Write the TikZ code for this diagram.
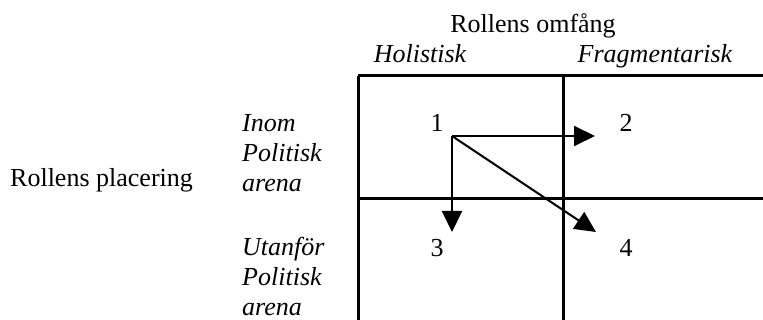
\documentclass[tikz,border=0pt]{standalone}
\usepackage{fontspec}
\setmainfont{Liberation Serif}
\usetikzlibrary{arrows.meta}
\usetikzlibrary{positioning}
\tikzstyle{line} = [draw, line width=2pt, -{Triangle[length=21pt,width=20pt]}]
\tikzstyle{grid} = [draw, line width=3pt]

\begin{document}
\begin{tikzpicture}[x=1pt, y=-1pt,
    every node/.style={inner sep=0pt, font=\fontsize{26}{30}\selectfont},
    head/.style={anchor=base},
    rowlabel/.style={anchor=north west, align=left, font=\fontsize{26}{30}\selectfont\itshape},
    cellnum/.style={anchor=base}]
    \useasboundingbox (0,0) rectangle (763,320);
    %% Grid
    \path[grid] (358,76) -- (763,76);
    \path[grid] (358,199) -- (763,199);
    \path[grid] (358,76) -- (358,320);
    \path[grid] (563,76) -- (563,320);
    %% Headings
    \node[head] (omfang) at (533,33) {Rollens omfång};
    \node[head, font=\fontsize{26}{30}\selectfont\itshape] (holist) at (420,63) {Holistisk};
    \node[head, font=\fontsize{26}{30}\selectfont\itshape] (fragm) at (655,63) {Fragmentarisk};
    \node[anchor=base west] (placering) at (10,187) {Rollens placering};
    \node[rowlabel] (inom) at (242,114) {Inom\\Politisk\\arena};
    \node[rowlabel] (utanfor) at (242,237) {Utanför\\Politisk\\arena};
    %% Cells
    \node[cellnum] (c1) at (437,132) {1};
    \node[cellnum] (c2) at (626,132) {2};
    \node[cellnum] (c3) at (437,257) {3};
    \node[cellnum] (c4) at (626,257) {4};
    %% Moves out of cell 1
    \coordinate (o) at (452,136);
    \coordinate (to2) at (595,136);
    \coordinate (to3) at (452,232);
    \coordinate (to4) at (596,232);
    \path[line] (o) -- (to2);
    \path[line] (o) -- (to3);
    \path[line] (o) -- (to4);
\end{tikzpicture}
\end{document}
